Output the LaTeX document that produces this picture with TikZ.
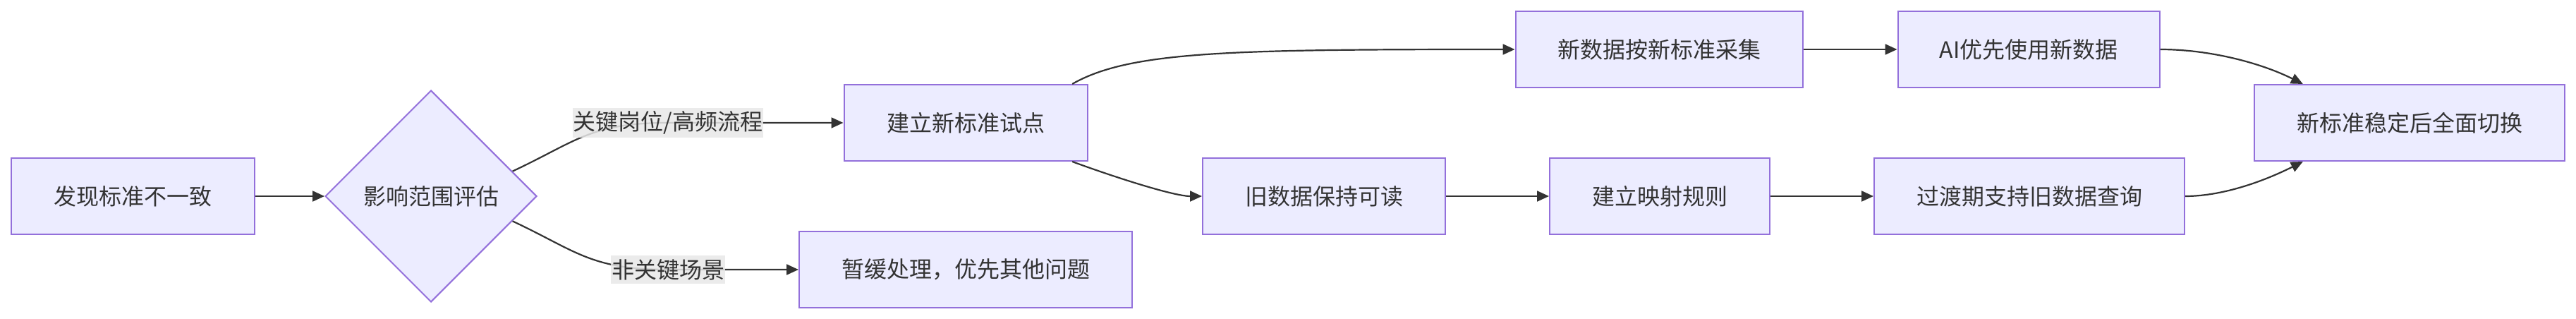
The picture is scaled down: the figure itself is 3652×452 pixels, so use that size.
\documentclass[tikz,border=0pt]{standalone}
\usepackage{fontspec}
\newfontfamily\cjk{Noto Sans CJK SC}
\usetikzlibrary{arrows.meta,shapes.geometric}
\definecolor{nodefill}{HTML}{ECECFF}
\definecolor{nodeline}{HTML}{9370DB}
\definecolor{edgeline}{HTML}{333333}
\definecolor{labelbg}{HTML}{E8E8E8}
\begin{document}
\begin{tikzpicture}[x=1pt, y=-1pt,
    every node/.style={font=\cjk\fontsize{32}{38}\selectfont, text=edgeline},
    box/.style={draw=nodeline, fill=nodefill, line width=2pt, inner sep=0pt, minimum height=108pt},
    decision/.style={diamond, aspect=1, draw=nodeline, fill=nodefill, line width=2pt, inner sep=0pt, minimum size=300pt},
    lbl/.style={fill=labelbg, fill opacity=0.85, text opacity=1, inner xsep=1pt, inner ysep=5pt},
    flow/.style={draw=edgeline, line width=2.2pt, -{Triangle[length=17pt,width=15pt]}}]
    \useasboundingbox (0,0) rectangle (3652,452);

    % nodes
    \node[box, minimum width=345pt] (find) at (188,278) {发现标准不一致};
    \node[decision] (scope) at (611,278) {影响范围评估};
    \node[box, minimum width=345pt] (pilot) at (1369,174) {建立新标准试点};
    \node[box, minimum width=472pt] (defer) at (1369,382) {暂缓处理，优先其他问题};
    \node[box, minimum width=407pt] (newdata) at (2352,70) {新数据按新标准采集};
    \node[box, minimum width=344pt] (olddata) at (1877,278) {旧数据保持可读};
    \node[box, minimum width=312pt] (mapping) at (2353,278) {建立映射规则};
    \node[box, minimum width=371pt] (aiuse) at (2876,70) {AI优先使用新数据};
    \node[box, minimum width=440pt] (transit) at (2877,278) {过渡期支持旧数据查询};
    \node[box, minimum width=440pt] (switch) at (3416,174) {新标准稳定后全面切换};

    % label spots
    \coordinate (keypos) at (947,174);
    \coordinate (minorpos) at (947,382);

    % connectors
    \draw[flow] (find) -- (scope);
    \draw[flow] (scope.17) .. controls +(90,-42) and +(-110,0) .. (keypos) -- (pilot.west);
    \draw[flow] (scope.-17) .. controls +(90,42) and +(-110,0) .. (minorpos) -- (defer.west);
    \draw[flow] (pilot.20) .. controls +(82,-47) and +(-400,0) .. (newdata.west);
    \draw[flow] (pilot.-20) .. controls +(60,22) and +(-40,0) .. (olddata.west);
    \draw[flow] (newdata) -- (aiuse);
    \draw[flow] (olddata) -- (mapping);
    \draw[flow] (mapping) -- (transit);
    \draw[flow] (aiuse.east) .. controls +(70,0) and +(-60,-30) .. (switch.160);
    \draw[flow] (transit.east) .. controls +(50,0) and +(-60,30) .. (switch.200);

    % edge labels
    \node[lbl] (keylbl) at (keypos) {关键岗位/高频流程};
    \node[lbl] (minorlbl) at (minorpos) {非关键场景};
\end{tikzpicture}
\end{document}
